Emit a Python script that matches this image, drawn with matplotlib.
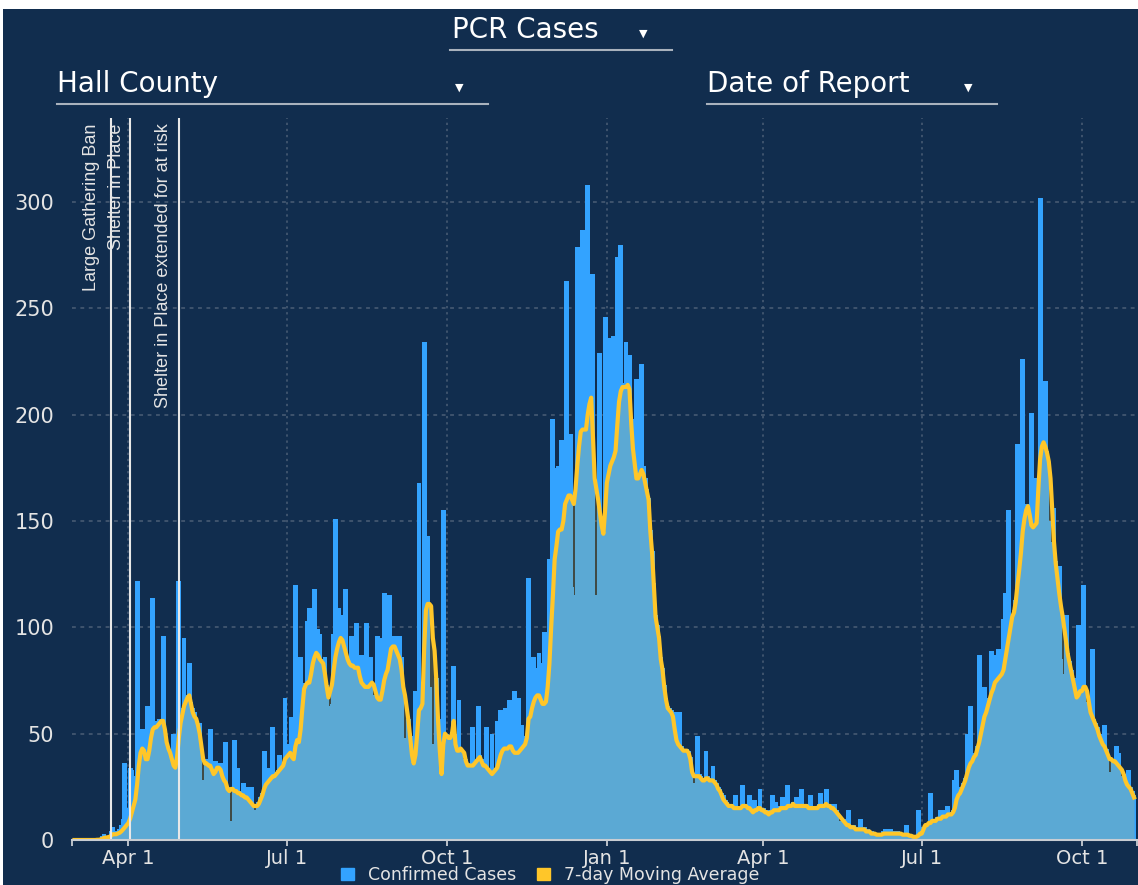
import matplotlib
matplotlib.use("Agg")
import matplotlib.pyplot as plt
import matplotlib.dates as mdates
from matplotlib.patches import Patch, Rectangle
from matplotlib.lines import Line2D
import pandas as pd

# Daily PCR cases by date of report, Mar 1 2020 - Oct 31 2021 (one row per month)
daily_cases = [
    0, 0, 0, 0, 0, 0, 0, 0, 0, 0, 0, 0, 0, 1, 0, 1, 2, 3, 1, 2, 1, 4, 6, 2, 3, 4, 5, 7, 10, 36, 14,
    15, 34, 33, 25, 30, 122, 45, 52, 48, 52, 42, 63, 48, 52, 114, 54, 56, 55, 57, 56, 96, 50, 44, 42, 40, 38, 50, 36, 40, 122,
    60, 62, 95, 66, 68, 83, 65, 62, 60, 56, 55, 55, 28, 26, 24, 38, 36, 52, 35, 34, 37, 34, 35, 36, 30, 31, 46, 25, 9, 7, 5,
    47, 24, 34, 23, 22, 27, 21, 21, 25, 20, 25, 14, 13, 14, 18, 20, 22, 42, 27, 34, 29, 30, 53, 31, 32, 33, 40, 35, 36, 67,
    42, 45, 42, 58, 40, 120, 48, 48, 86, 64, 72, 74, 103, 109, 80, 84, 118, 89, 99, 97, 85, 84, 86, 73, 63, 62, 64, 97, 151, 92, 109,
    96, 106, 92, 118, 86, 84, 96, 83, 82, 102, 82, 78, 87, 74, 73, 102, 73, 86, 68, 68, 66, 96, 67, 95, 71, 116, 79, 81, 115, 91, 92,
    96, 90, 88, 96, 86, 48, 45, 44, 57, 49, 41, 37, 70, 52, 168, 63, 65, 234, 110, 143, 72, 45, 45, 40, 76, 57, 28, 27, 155, 50,
    50, 49, 49, 51, 82, 50, 43, 66, 43, 37, 37, 38, 36, 36, 36, 53, 37, 38, 63, 40, 38, 36, 36, 53, 34, 33, 50, 33, 34, 56, 38,
    61, 43, 44, 62, 44, 66, 45, 43, 70, 42, 67, 43, 54, 45, 46, 49, 123, 59, 76, 86, 68, 81, 88, 67, 83, 98, 66, 97, 132, 110,
    198, 135, 175, 176, 150, 188, 155, 160, 263, 163, 191, 119, 110, 115, 279, 190, 195, 287, 196, 195, 308, 210, 210, 266, 115, 105, 110, 229, 150, 146, 246,
    175, 236, 150, 155, 237, 185, 274, 210, 280, 215, 214, 234, 215, 228, 198, 186, 178, 217, 172, 174, 224, 176, 170, 165, 161, 146, 136, 121, 106, 101, 96,
    86, 81, 73, 67, 63, 62, 61, 59, 53, 60, 46, 60, 44, 41, 40, 43, 42, 39, 26, 25, 27, 49, 31, 30, 27, 29, 42, 30,
    29, 29, 35, 28, 27, 25, 24, 22, 21, 19, 18, 17, 17, 17, 16, 21, 16, 16, 16, 26, 17, 17, 16, 21, 15, 14, 19, 15, 16, 24, 15,
    15, 14, 14, 13, 14, 21, 15, 18, 15, 15, 16, 20, 16, 16, 26, 17, 17, 18, 17, 20, 17, 17, 24, 17, 17, 17, 16, 21, 16, 16,
    16, 16, 17, 22, 17, 17, 24, 17, 17, 16, 16, 17, 14, 9, 8, 8, 10, 9, 8, 14, 7, 7, 7, 6, 6, 6, 10, 6, 6, 5, 5,
    4, 4, 3, 3, 3, 3, 3, 3, 4, 5, 3, 3, 5, 3, 4, 3, 4, 3, 3, 3, 3, 7, 3, 2, 2, 2, 2, 2, 14, 3,
    5, 6, 5, 4, 8, 22, 9, 10, 10, 11, 11, 14, 14, 12, 12, 16, 13, 13, 14, 28, 33, 22, 23, 25, 27, 29, 50, 35, 63, 38, 40,
    41, 44, 87, 51, 55, 72, 61, 64, 67, 89, 87, 75, 76, 90, 78, 79, 104, 116, 91, 155, 101, 106, 108, 113, 186, 128, 136, 226, 152, 158, 158,
    154, 201, 148, 170, 150, 166, 302, 186, 188, 216, 183, 150, 140, 130, 156, 131, 124, 129, 85, 77, 78, 106, 88, 84, 80, 76, 72, 68, 101, 71,
    71, 120, 65, 62, 60, 61, 90, 57, 55, 53, 50, 48, 46, 54, 43, 32, 30, 32, 38, 38, 44, 41, 30, 28, 28, 31, 29, 33, 25, 23, 21,
]

# 7-day moving average, same days
moving_avg = [
    0, 0, 0, 0, 0, 0, 0, 0, 0, 0, 0, 0, 0, 0.1, 0.1, 0.3, 0.6, 1.0, 1.1, 1.3, 1.4, 2.0, 2.7, 2.7, 2.7, 3.1, 3.4, 4.1, 5.0, 6.0, 7.0,
    8, 10, 13, 16, 19, 26, 35, 41, 43, 42, 38, 38, 42, 48, 52, 53, 53, 54, 55, 56, 56, 52, 46, 43, 41, 38, 35, 34, 39, 48,
    55, 59, 63, 65, 67, 68, 64, 60, 58, 57, 54, 50, 44, 38, 36, 36, 35, 35, 33, 31, 32, 34, 34, 33, 30, 28, 27, 24, 23, 24, 24,
    23, 23, 22, 22, 21, 21, 20, 20, 19, 18, 17, 16, 16, 16, 17, 19, 21, 24, 26, 27, 28, 29, 30, 30, 31, 32, 33, 34, 35, 38,
    39, 40, 41, 39, 38, 44, 47, 46, 52, 62, 71, 73, 74, 74, 78, 83, 86, 88, 87, 85, 84, 83, 78, 72, 67, 70, 73, 80, 86, 90, 93,
    95, 94, 91, 88, 85, 83, 82, 82, 81, 81, 81, 77, 74, 73, 72, 72, 72, 73, 74, 73, 70, 67, 66, 66, 70, 75, 78, 80, 85, 90, 91,
    91, 89, 87, 85, 80, 72, 68, 62, 56, 48, 40, 36, 40, 50, 61, 62, 64, 90, 108, 111, 111, 110, 95, 89, 75, 56, 42, 31, 45, 50,
    49, 48, 48, 50, 56, 45, 42, 42, 43, 42, 41, 37, 35, 35, 35, 35, 36, 37, 38, 39, 37, 35, 35, 34, 33, 32, 31, 32, 33, 34, 37,
    40, 42, 43, 43, 43, 44, 44, 42, 41, 41, 41, 42, 43, 44, 45, 48, 57, 58, 62, 65, 67, 68, 68, 66, 64, 64, 65, 72, 83, 100,
    115, 132, 138, 145, 146, 146, 150, 158, 160, 162, 162, 160, 158, 165, 176, 185, 192, 193, 193, 193, 200, 205, 208, 190, 170, 165, 160, 154, 148, 144, 155,
    168, 172, 176, 178, 180, 183, 195, 206, 211, 213, 213, 213, 214, 212, 196, 184, 177, 170, 170, 172, 174, 172, 168, 164, 160, 145, 135, 120, 105, 100, 95,
    85, 80, 72, 66, 62, 61, 60, 58, 52, 47, 45, 44, 43, 42, 42, 42, 41, 38, 32, 30, 30, 30, 30, 29, 28, 28, 29, 29,
    28, 28, 28, 27, 26, 24, 23, 21, 19, 18, 17, 16, 16, 16, 15, 15, 15, 15, 15, 16, 16, 16, 15, 15, 14, 13, 14, 14, 15, 15, 14,
    14, 13, 13, 12, 13, 13, 14, 14, 14, 14, 15, 15, 15, 15, 16, 16, 16, 17, 16, 16, 16, 16, 16, 16, 16, 16, 15, 15, 15, 15,
    15, 15, 16, 16, 16, 16, 17, 16, 16, 15, 15, 14, 13, 12, 11, 10, 9, 8, 7, 7, 6, 6, 6, 5, 5, 5, 5, 5, 5, 4, 4,
    4, 3, 3, 3, 2.5, 2.5, 2.5, 2.5, 3, 3, 3, 3, 3, 3, 3, 3, 3, 3, 3, 2.5, 2.5, 2.5, 2.5, 2, 2, 1.5, 1.5, 1.5, 2, 3,
    3, 5, 7, 7, 8, 8, 9, 9, 9, 10, 10, 10, 11, 11, 11, 12, 12, 12, 13, 15, 19, 21, 22, 24, 26, 28, 31, 34, 36, 37, 39,
    40, 43, 46, 50, 54, 58, 60, 63, 66, 69, 71, 74, 75, 76, 77, 78, 80, 85, 90, 95, 100, 105, 107, 112, 120, 127, 135, 145, 151, 155, 157,
    153, 148, 147, 148, 149, 165, 179, 185, 187, 185, 182, 178, 170, 155, 140, 130, 123, 116, 110, 105, 99, 93, 87, 83, 79, 75, 71, 67, 68, 70,
    70, 72, 72, 70, 65, 60, 58, 56, 54, 52, 49, 47, 45, 44, 42, 40, 38, 38, 37, 37, 36, 35, 34, 33, 31, 28, 26, 25, 24, 22, 20,
]

event_dates = ["2020-03-22", "2020-04-02", "2020-04-30"]
event_labels = ["Large Gathering Ban", "Shelter in Place", "Shelter in Place extended for at risk"]

tick_dates = ["2020-04-01", "2020-07-01", "2020-10-01", "2021-01-01", "2021-04-01", "2021-07-01", "2021-10-01"]
tick_labels = ["Apr 1", "Jul 1", "Oct 1", "Jan 1", "Apr 1", "Jul 1", "Oct 1"]
y_ticks = [0, 50, 100, 150, 200, 250, 300]

NAVY = "#112d4e"
BAR_BLUE = "#33a3ff"
GOLD = "#ffc629"
GRID = "#4b5e76"
AXIS = "#c8cdd3"
TEXT = "#e4e4e4"

W, H = 1138, 885


def fig_xy(x, y):
    return x / W, 1 - y / H


dates = pd.date_range("2020-03-01", periods=len(daily_cases), freq="D")
x = mdates.date2num(dates)

fig = plt.figure(figsize=(W / 100, H / 100), dpi=100, facecolor="white")
fig.add_artist(Rectangle((3 / W, 0), 1, 1 - 9 / H, transform=fig.transFigure,
                         facecolor=NAVY, edgecolor="none", zorder=0))

ax = fig.add_axes([72 / W, 45 / H, 1065 / W, 722 / H])
ax.set_facecolor(NAVY)

# daily bars, translucent band under the average, average line
ax.bar(x, daily_cases, width=2.8, color=BAR_BLUE, linewidth=0, zorder=2)
ax.fill_between(x, moving_avg, color=GOLD, alpha=0.2, linewidth=0, zorder=3)
ax.plot(x, moving_avg, color=GOLD, lw=3, zorder=4, solid_joinstyle="round")

x_min = x[0] - 1.4
x_max = x[-1] + 1.7
ax.set_xlim(x_min, x_max)
ax.set_ylim(0, 339.5)

tick_x = list(mdates.date2num(pd.to_datetime(tick_dates)))
for tx in tick_x:
    ax.axvline(tx, color=GRID, lw=1.1, ls=(0, (1.5, 2.5)), zorder=1)
for ty in y_ticks[1:]:
    ax.axhline(ty, color=GRID, lw=1.1, ls=(0, (2.5, 3)), zorder=1)

ax.set_xticks(tick_x + [x_min, x_max])
ax.set_xticklabels(tick_labels + ["", ""])
ax.set_yticks(y_ticks)
ax.tick_params(axis="x", length=4.5, width=1.3, color=AXIS, pad=2,
               labelsize=14, labelcolor=TEXT)
ax.tick_params(axis="y", length=0, pad=13, labelsize=15, labelcolor=TEXT)

for side in ("left", "right", "top"):
    ax.spines[side].set_visible(False)
ax.spines["bottom"].set_color(AXIS)
ax.spines["bottom"].set_linewidth(1.5)
ax.spines["bottom"].set_zorder(6)

# event markers with rotated labels
label_shift = [-8, -4, -5]
for d, label, shift in zip(event_dates, event_labels, label_shift):
    ex = mdates.date2num(pd.Timestamp(d))
    ax.axvline(ex, color="#e8e8e8", lw=1.5, zorder=5)
    ax.annotate(label, xy=(ex, 1), xycoords=("data", "axes fraction"),
                xytext=(shift, -4), textcoords="offset points",
                rotation=90, ha="right", va="top", fontsize=13,
                family=["Liberation Sans", "DejaVu Sans"], color=TEXT, zorder=6)

# dropdown headers
header_font = dict(fontsize=20, color="white", ha="left", va="baseline")
fig.text(*fig_xy(452, 38), "PCR Cases", **header_font)
fig.text(*fig_xy(57, 92), "Hall County", **header_font)
fig.text(*fig_xy(707, 92), "Date of Report", **header_font)
for tx, ty in [(643, 34), (459, 88), (968, 88)]:
    fig.text(*fig_xy(tx, ty), "\u25bc", fontsize=8, color="white", ha="center", va="center")
for x0, x1, yy in [(450, 672, 50), (57, 488, 104), (707, 997, 104)]:
    fig.add_artist(Line2D([x0 / W, x1 / W], [1 - yy / H] * 2, transform=fig.transFigure,
                          color="#a9b2bd", lw=1.5))

fig.legend(handles=[Patch(color=BAR_BLUE), Patch(color=GOLD)],
           labels=["Confirmed Cases", "7-day Moving Average"],
           loc="upper center", bbox_to_anchor=fig_xy(550, 866), ncol=2,
           frameon=False, fontsize=12.5, labelcolor=TEXT,
           handlelength=0.75, handleheight=0.75, handletextpad=0.8,
           columnspacing=1.2, borderaxespad=0, borderpad=0)

fig.savefig("out.png", dpi=100, facecolor=fig.get_facecolor())
